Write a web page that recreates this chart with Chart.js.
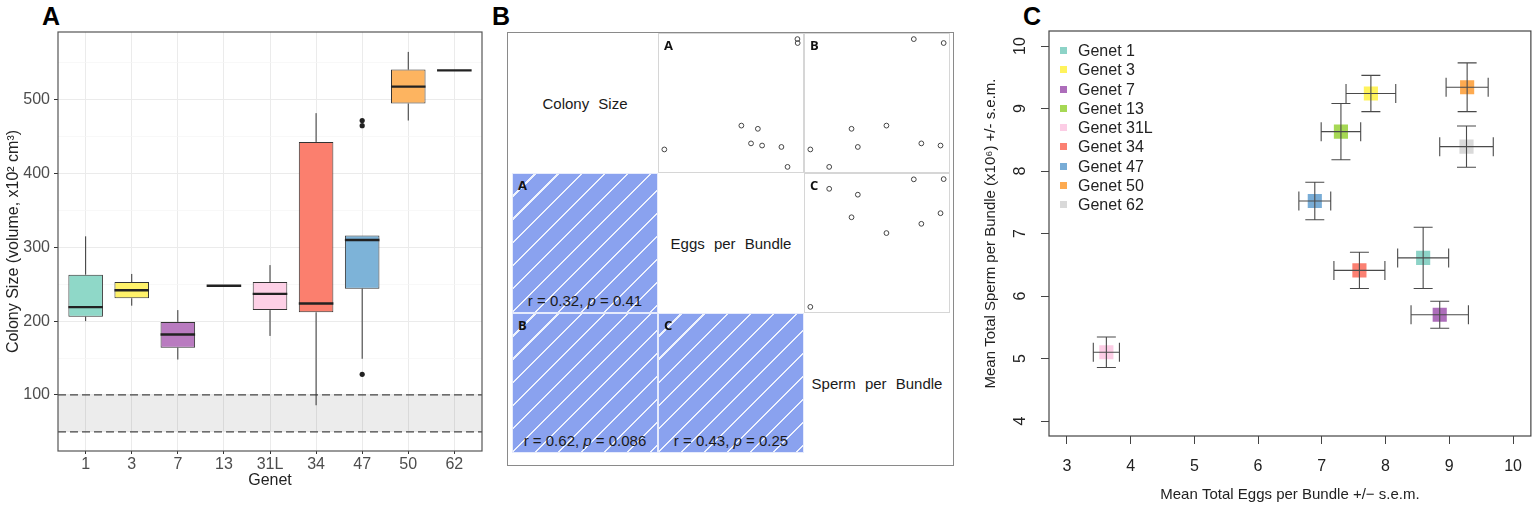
<!DOCTYPE html>
<html>
<head>
<meta charset="utf-8">
<title>Genet colony size, eggs and sperm per bundle</title>
<script src="https://cdn.jsdelivr.net/npm/chart.js@4.4.1/dist/chart.umd.min.js"></script>
<style>
  body { margin: 0; background: #fff; font-family: "Liberation Sans", Arial, sans-serif; color: #222; }
  #page { position: relative; width: 1535px; height: 506px; overflow: hidden; }
  canvas { position: absolute; }
  .letter { position: absolute; top: 4px; font: bold 25px/25px "Liberation Sans", Arial, sans-serif; color: #000; }
  #matrix { position: absolute; left: 507px; top: 32px; width: 447px; height: 434px; border: 1.5px solid #8a8a8a; box-sizing: border-box; }
  .cell { position: absolute; box-sizing: border-box; width: 146px; height: 140px; }
  .plotcell { border: 1px solid #d6d6d6; }
  .hatch { background: repeating-linear-gradient(135deg, #8aa2ef 0px, #8aa2ef 14.8px, #eef2fd 14.8px, #eef2fd 16.3px); border: 1px solid #e6ebfc; }
  .diag { display: flex; align-items: center; justify-content: center; font-size: 15px; word-spacing: 5px; color: #1a1a1a; }
  .tag { position: absolute; left: 5px; top: 2px; font: bold 13px "Open Sans", "Liberation Sans", sans-serif; color: #111; }
  .corr { position: absolute; left: 0; right: 0; bottom: 3px; text-align: center; font-size: 15px; color: #1a1a1a; }
  #legendC { position: absolute; left: 1060px; top: 41px; font-size: 16px; color: #222; }
  #legendC div { position: relative; height: 19.3px; line-height: 19.3px; padding-left: 18px; white-space: nowrap; }
  #legendC span { position: absolute; left: 0; top: 6px; width: 7px; height: 7px; }
</style>
</head>
<body>
<div id="page">
  <div class="letter" style="left:42px">A</div>
  <div class="letter" style="left:492px">B</div>
  <div class="letter" style="left:1023px">C</div>

  <canvas id="chartA" width="490" height="506" style="left:0;top:0"></canvas>
  <div id="matrix"></div>
  <canvas id="chartC" width="575" height="506" style="left:960px;top:0"></canvas>
  <div id="legendC"></div>
</div>

<script>
// genets shared by all three panels
const genets = ['1', '3', '7', '13', '31L', '34', '47', '50', '62'];

// panel A: colony size boxplots (volume, x10^2 cm^3)
const boxLow = [200, 221, 148, 248, 180, 86, 149, 472, 540];
const boxQ1 = [206, 231, 164, 248, 215, 212, 244, 495, 540];
const boxMedian = [219, 242, 182, 248, 237, 224, 310, 518, 540];
const boxQ3 = [263, 253, 199, 248, 253, 443, 316, 541, 540];
const boxHigh = [315, 264, 215, 248, 276, 482, 316, 565, 540];
const outlierGenet = ['47', '47', '47'];
const outlierValue = [472, 465, 128];
const bandLow = 50;
const bandHigh = 100;
const boxColours = ['#8fd8c8', '#fff26a', '#b97bc0', '#8fd8c8', '#fdd0e6', '#fb7f6e', '#7db3d8', '#fdb460', '#d9d9d9'];

// panel C: means and s.e.m. per genet
const eggsMean = [8.59, 7.77, 8.85, 7.30, 3.62, 7.59, 6.89, 9.28, 9.27];
const eggsSem = [0.40, 0.39, 0.45, 0.31, 0.205, 0.40, 0.25, 0.33, 0.42];
const spermMean = [6.61, 9.24, 5.70, 8.63, 5.10, 6.41, 7.52, 9.34, 8.39];
const spermSem = [0.49, 0.29, 0.215, 0.45, 0.245, 0.29, 0.30, 0.39, 0.33];
const genetColours = ['#8dd3c7', '#fff35c', '#ad6dba', '#a6d854', '#fccde5', '#fb8072', '#78acd6', '#fdaa50', '#d9d9d9'];

// panel B: colony size means and correlations
const colonyMean = [238, 242, 182, 248, 231, 289, 298, 530, 541];
const traits = ['Colony Size', 'Eggs per Bundle', 'Sperm per Bundle'];
const pairTags = ['A', 'B', 'C'];
const pairRow = [1, 2, 2];
const pairCol = [0, 0, 1];
const pairR = ['0.32', '0.62', '0.43'];
const pairP = ['0.41', '0.086', '0.25'];

Chart.defaults.font.family = "'Liberation Sans', Arial, sans-serif";
Chart.defaults.color = '#333';
Chart.defaults.animation = false;
Chart.defaults.events = [];
Chart.defaults.plugins.legend.display = false;
Chart.defaults.plugins.tooltip.enabled = false;


// ---------- Panel A ----------
const boxParts = {
    id: 'boxParts',
    beforeDatasetsDraw(chart) {
        const { ctx, chartArea: a, scales: { x, y } } = chart;
        const yHi = y.getPixelForValue(bandHigh);
        const yLo = y.getPixelForValue(bandLow);
        ctx.save();
        ctx.fillStyle = 'rgba(0,0,0,0.075)';
        ctx.fillRect(a.left, yHi, a.right - a.left, yLo - yHi);
        ctx.strokeStyle = '#444';
        ctx.lineWidth = 1.3;
        ctx.setLineDash([8, 4]);
        [yHi, yLo].forEach(py => {
            ctx.beginPath();
            ctx.moveTo(a.left, py);
            ctx.lineTo(a.right, py);
            ctx.stroke();
        });
        ctx.setLineDash([]);
        // whiskers
        ctx.strokeStyle = '#333';
        ctx.lineWidth = 1;
        genets.forEach((g, i) => {
            const px = x.getPixelForValue(i + 1);
            ctx.beginPath();
            ctx.moveTo(px, y.getPixelForValue(boxHigh[i]));
            ctx.lineTo(px, y.getPixelForValue(boxQ3[i]));
            ctx.moveTo(px, y.getPixelForValue(boxQ1[i]));
            ctx.lineTo(px, y.getPixelForValue(boxLow[i]));
            ctx.stroke();
        });
        ctx.restore();
    },
    afterDatasetsDraw(chart) {
        const { ctx, scales: { y } } = chart;
        const bars = chart.getDatasetMeta(0).data;
        ctx.save();
        ctx.strokeStyle = '#222';
        ctx.lineWidth = 2.4;
        genets.forEach((g, i) => {
            const py = y.getPixelForValue(boxMedian[i]);
            ctx.beginPath();
            ctx.moveTo(bars[i].x - bars[i].width / 2, py);
            ctx.lineTo(bars[i].x + bars[i].width / 2, py);
            ctx.stroke();
        });
        ctx.restore();
    },
    afterDraw(chart) {
        const { ctx, chartArea: a } = chart;
        ctx.save();
        ctx.strokeStyle = '#555';
        ctx.lineWidth = 1.2;
        ctx.strokeRect(a.left, a.top, a.right - a.left, a.bottom - a.top);
        ctx.restore();
    }
};

new Chart(document.getElementById('chartA'), {
    type: 'bar',
    data: {
        datasets: [{
            data: genets.map((g, i) => ({ x: i + 1, y: [boxQ1[i], boxQ3[i]] })),
            backgroundColor: boxColours,
            borderColor: '#333',
            borderWidth: 1,
            borderSkipped: false,
            barPercentage: 0.75,
            categoryPercentage: 1,
            order: 2
        }, {
            type: 'scatter',
            data: outlierGenet.map((g, i) => ({ x: genets.indexOf(g) + 1, y: outlierValue[i] })),
            pointRadius: 2.6,
            pointBackgroundColor: '#222',
            pointBorderWidth: 0,
            order: 1
        }]
    },
    options: {
        responsive: false,
        layout: { autoPadding: false, padding: { top: 32, right: 8, left: 0, bottom: 0 } },
        scales: {
            x: {
                type: 'linear',
                min: 0.4,
                max: 9.6,
                offset: false,
                afterFit: s => { s.height = 55; },
                border: { display: false },
                grid: { offset: false, color: '#ebebeb', tickColor: '#333', tickLength: 3 },
                ticks: {
                    stepSize: 1, includeBounds: false, autoSkip: false, maxRotation: 0,
                    padding: 1, color: '#4d4d4d', font: { size: 16 },
                    callback: v => genets[v - 1] ?? ''
                },
                title: { display: true, text: 'Genet', color: '#222', font: { size: 16 }, padding: { top: 0, bottom: 16 } }
            },
            y: {
                min: 24,
                max: 592,
                afterFit: s => { s.width = 58; },
                border: { display: false },
                grid: {
                    color: c => (c.tick && c.tick.value % 100 === 0) ? '#ebebeb' : '#f5f5f5',
                    lineWidth: c => (c.tick && c.tick.value % 100 === 0) ? 1 : 0.7,
                    tickColor: c => (c.tick && c.tick.value % 100 === 0) ? '#333' : 'rgba(0,0,0,0)',
                    tickLength: 4
                },
                ticks: {
                    stepSize: 50, includeBounds: false, padding: 4, color: '#4d4d4d', font: { size: 16 },
                    callback: v => v % 100 === 0 ? v : ''
                },
                title: { display: true, text: 'Colony Size (volume, x10² cm³)', color: '#222', font: { size: 16 }, padding: { top: 4, bottom: 0 } }
            }
        }
    },
    plugins: [boxParts]
});


// ---------- Panel B ----------
const traitValues = [colonyMean, eggsMean, spermMean];
const cellX = [512, 658, 804];
const cellY = [33, 173, 313];
const page = document.getElementById('page');

function addCell(row, col, cls) {
    const d = document.createElement('div');
    d.className = 'cell ' + cls;
    d.style.left = cellX[col] + 'px';
    d.style.top = cellY[row] + 'px';
    page.appendChild(d);
    return d;
}

function pairChart(cell, xs, ys) {
    const padRange = a => {
        const lo = Math.min(...a), hi = Math.max(...a), d = (hi - lo) * 0.04;
        return [lo - d, hi + d];
    };
    const [x0, x1] = padRange(xs);
    const [y0, y1] = padRange(ys);
    const cv = document.createElement('canvas');
    cv.width = 144; cv.height = 138;
    cv.style.left = '0px'; cv.style.top = '0px';
    cell.appendChild(cv);
    new Chart(cv, {
        type: 'scatter',
        data: {
            datasets: [{
                data: xs.map((x, i) => ({ x: x, y: ys[i] })),
                pointRadius: 2.4,
                pointBorderWidth: 1,
                pointBorderColor: '#444',
                pointBackgroundColor: 'rgba(0,0,0,0)',
                clip: false
            }]
        },
        options: {
            responsive: false,
            layout: { autoPadding: false, padding: 0 },
            scales: {
                x: { display: false, min: x0, max: x1 },
                y: { display: false, min: y0, max: y1 }
            }
        }
    });
}

traits.forEach((t, i) => {
    const d = addCell(i, i, 'diag');
    d.textContent = t;
});

pairTags.forEach((tag, k) => {
    const r = pairRow[k], c = pairCol[k];
    // lower panel: hatched, with the correlation
    const low = addCell(r, c, 'hatch');
    low.innerHTML = '<div class="tag">' + tag + '</div><div class="corr">r = ' + pairR[k] + ', <i>p</i> = ' + pairP[k] + '</div>';
    // upper panel: scatter, x = column trait, y = row trait
    const up = addCell(c, r, 'plotcell');
    pairChart(up, traitValues[r], traitValues[c]);
    const lab = document.createElement('div');
    lab.className = 'tag';
    lab.textContent = tag;
    up.appendChild(lab);
});


// ---------- Panel C ----------
const legendC = document.getElementById('legendC');
genets.forEach((g, i) => {
    const row = document.createElement('div');
    row.innerHTML = '<span style="background:' + genetColours[i] + '"></span>Genet ' + g;
    legendC.appendChild(row);
});

const errorBars = {
    id: 'errorBars',
    afterDatasetsDraw(chart) {
        const { ctx, scales: { x, y } } = chart;
        const cap = 9.5;
        ctx.save();
        ctx.strokeStyle = '#4a4a4a';
        ctx.lineWidth = 1.1;
        genets.forEach((g, i) => {
            const cx = x.getPixelForValue(eggsMean[i]);
            const cy = y.getPixelForValue(spermMean[i]);
            const xl = x.getPixelForValue(eggsMean[i] - eggsSem[i]);
            const xr = x.getPixelForValue(eggsMean[i] + eggsSem[i]);
            const yt = y.getPixelForValue(spermMean[i] + spermSem[i]);
            const yb = y.getPixelForValue(spermMean[i] - spermSem[i]);
            ctx.beginPath();
            ctx.moveTo(xl, cy); ctx.lineTo(xr, cy);
            ctx.moveTo(xl, cy - cap); ctx.lineTo(xl, cy + cap);
            ctx.moveTo(xr, cy - cap); ctx.lineTo(xr, cy + cap);
            ctx.moveTo(cx, yt); ctx.lineTo(cx, yb);
            ctx.moveTo(cx - cap, yt); ctx.lineTo(cx + cap, yt);
            ctx.moveTo(cx - cap, yb); ctx.lineTo(cx + cap, yb);
            ctx.stroke();
        });
        ctx.restore();
    },
    afterDraw(chart) {
        const { ctx, chartArea: a, scales: { y } } = chart;
        ctx.save();
        ctx.strokeStyle = '#444';
        ctx.lineWidth = 1.2;
        ctx.strokeRect(a.left, a.top, a.right - a.left, a.bottom - a.top);
        // y tick labels, rotated like base R
        ctx.fillStyle = '#222';
        ctx.font = "16px 'Liberation Sans', Arial, sans-serif";
        ctx.textAlign = 'center';
        ctx.textBaseline = 'middle';
        y.ticks.forEach(t => {
            ctx.save();
            ctx.translate(a.left - 28, y.getPixelForValue(t.value));
            ctx.rotate(-Math.PI / 2);
            ctx.fillText(String(t.value), 0, 0);
            ctx.restore();
        });
        ctx.restore();
    }
};

new Chart(document.getElementById('chartC'), {
    type: 'scatter',
    data: {
        datasets: [{
            data: genets.map((g, i) => ({ x: eggsMean[i], y: spermMean[i] })),
            pointStyle: 'rect',
            pointRadius: 10,
            pointBorderWidth: 0,
            pointBackgroundColor: genetColours
        }]
    },
    options: {
        responsive: false,
        layout: { autoPadding: false, padding: { top: 31, right: 2, left: 0, bottom: 0 } },
        scales: {
            x: {
                min: 2.72,
                max: 10.28,
                afterFit: s => { s.height = 70; },
                border: { display: false },
                grid: { drawOnChartArea: false, tickLength: 8, tickColor: '#444' },
                ticks: { stepSize: 1, includeBounds: false, maxRotation: 0, padding: 13, color: '#222', font: { size: 16 } },
                title: { display: true, text: 'Mean Total Eggs per Bundle +/− s.e.m.', color: '#222', font: { size: 15 }, padding: { top: 0, bottom: 2 } }
            },
            y: {
                min: 3.76,
                max: 10.24,
                afterFit: s => { s.width = 89; },
                border: { display: false },
                grid: { drawOnChartArea: false, tickLength: 8, tickColor: '#444' },
                ticks: { stepSize: 1, includeBounds: false, color: 'rgba(0,0,0,0)', font: { size: 16 } },
                title: { display: true, text: 'Mean Total Sperm per Bundle (x10⁶) +/- s.e.m.', color: '#222', font: { size: 15 }, padding: { top: 22, bottom: 0 } }
            }
        }
    },
    plugins: [errorBars]
});
</script>
</body>
</html>
